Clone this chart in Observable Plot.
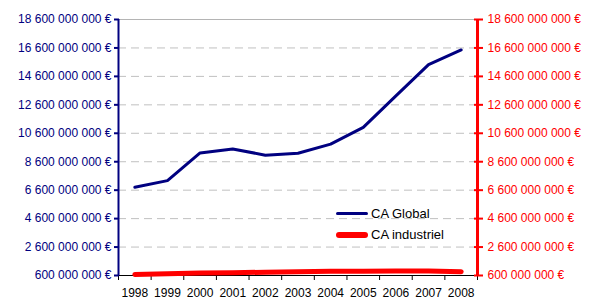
<!DOCTYPE html>
<html>
<head>
<meta charset="utf-8">
<script src="https://cdn.jsdelivr.net/npm/d3@7"></script>
<script src="https://cdn.jsdelivr.net/npm/@observablehq/plot@0.6"></script>
<style>
  html, body { margin: 0; padding: 0; background: #fff; }
  #wrap { position: relative; width: 590px; height: 300px; font-family: "Liberation Sans", Arial, sans-serif; }
  #legend { position: absolute; left: 336px; top: 203px; font-size: 13px; color: #000; }
  .row { display: flex; align-items: center; height: 21px; }
  .sw { width: 32px; margin-right: 3px; border-radius: 3px; }
</style>
</head>
<body>
<div id="wrap">
  <div id="chart"></div>
  <div id="legend">
    <div class="row"><div class="sw" style="height:3px;background:#000080"></div><span>CA Global</span></div>
    <div class="row"><div class="sw" style="height:6px;background:#ff0000"></div><span>CA industriel</span></div>
  </div>
</div>
<script>
const years = [1998, 1999, 2000, 2001, 2002, 2003, 2004, 2005, 2006, 2007, 2008];
const caGlobal = [6.80e9, 7.27e9, 9.22e9, 9.50e9, 9.06e9, 9.20e9, 9.84e9, 11.02e9, 13.23e9, 15.43e9, 16.46e9];
const caIndustriel = [0.67e9, 0.72e9, 0.77e9, 0.80e9, 0.83e9, 0.86e9, 0.90e9, 0.90e9, 0.91e9, 0.91e9, 0.87e9];
const yTicks = [6e8, 2.6e9, 4.6e9, 6.6e9, 8.6e9, 10.6e9, 12.6e9, 14.6e9, 16.6e9, 18.6e9];
const seriesNames = ["CA Global", "CA industriel"];

const fmt = v => Math.round(v).toString().replace(/\B(?=(\d{3})+(?!\d))/g, " ") + " €";
const boundaries = years.map(y => y - 0.5).concat([years[years.length - 1] + 0.5]);
const xDomain = [boundaries[0], boundaries[boundaries.length - 1]];
const yDomain = [yTicks[0], yTicks[yTicks.length - 1]];

const global = years.map((y, i) => ({year: y, value: caGlobal[i]}));
const indus = years.map((y, i) => ({year: y, value: caIndustriel[i]}));

const chart = Plot.plot({
  width: 590,
  height: 300,
  marginLeft: 118,
  marginRight: 113,
  marginTop: 19,
  marginBottom: 25,
  style: {fontFamily: "'Liberation Sans', Arial, sans-serif", fontSize: "12px", background: "#fff"},
  x: {type: "linear", domain: xDomain},
  y: {type: "linear", domain: yDomain},
  marks: [
    Plot.ruleY(yTicks.slice(1, -1), {stroke: "#c0c0c0", strokeDasharray: "8,5"}),
    Plot.ruleY([yDomain[1]], {stroke: "#b4b4b4"}),
    Plot.ruleY([yDomain[0]], {stroke: "#000"}),
    Plot.axisX({ticks: boundaries, tickFormat: () => "", tickSize: 5, color: "#000", label: null}),
    Plot.axisX({ticks: years, tickFormat: d => String(d), tickSize: 0, tickPadding: 13, color: "#000", label: null}),
    Plot.line(indus, {x: "year", y: "value", stroke: "#ff0000", strokeWidth: 5, strokeLinecap: "round"}),
    Plot.line(global, {x: "year", y: "value", stroke: "#000080", strokeWidth: 3, strokeLinejoin: "miter"}),
    Plot.ruleX([xDomain[0]], {stroke: "#000080", strokeWidth: 2}),
    Plot.axisY({anchor: "left", ticks: yTicks, tickFormat: fmt, tickSize: 5, tickPadding: 3, dx: 1, color: "#000080", label: null, strokeWidth: 2}),
    Plot.ruleX([xDomain[1]], {stroke: "#ff0000", strokeWidth: 3}),
    Plot.axisY({anchor: "right", ticks: yTicks, tickFormat: () => "", tickSize: 9, dx: -4, color: "#ff0000", label: null, strokeWidth: 2}),
    Plot.axisY({anchor: "right", ticks: yTicks, tickFormat: fmt, tickSize: 5, tickPadding: 5, color: "#ff0000", label: null, stroke: "none"})
  ]
});
document.getElementById("chart").appendChild(chart);
</script>
</body>
</html>
